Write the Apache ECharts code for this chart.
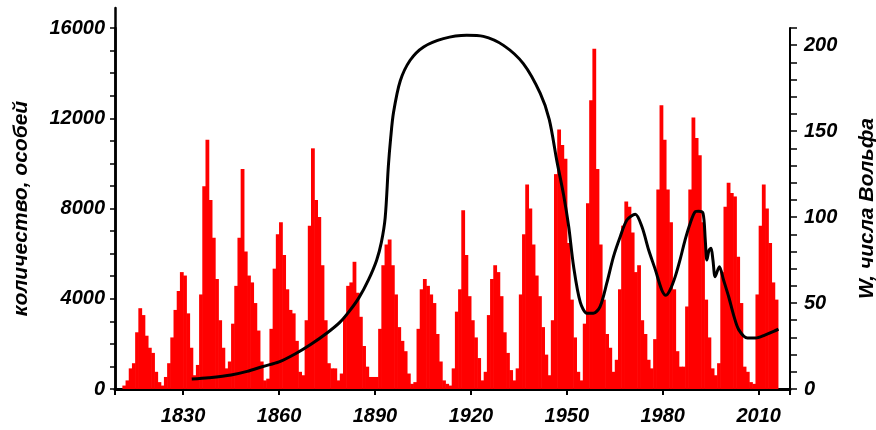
<!DOCTYPE html>
<html>
<head>
<meta charset="utf-8">
<style>
    html, body { margin: 0; padding: 0; background: #fff; }
    .chart { width: 876px; height: 430px; }
</style>
<script src="https://cdn.jsdelivr.net/npm/echarts@6.0.0/dist/echarts.min.js"></script>
</head>
<body>
<div class="chart"></div>
<script>
// числа Вольфа по годам, первый год - ssnFirstYear
var ssnFirstYear = 1811
var ssnValues = [
    2, 5, 12, 15, 33, 47, 43, 31, 24, 21,          // 1811-1820
    10, 4, 2, 7, 15, 30, 46, 57, 68, 66,           // 1821-1830
    44, 24, 8, 14, 55, 118, 145, 110, 88, 64,      // 1831-1840
    40, 24, 12, 16, 38, 60, 88, 128, 80, 66,       // 1841-1850
    62, 50, 34, 16, 5, 6, 35, 70, 90, 97,          // 1851-1860
    78, 58, 46, 44, 28, 10, 8, 40, 95, 140,        // 1861-1870
    110, 100, 72, 40, 15, 12, 12, 5, 9, 42,        // 1871-1880
    60, 62, 74, 56, 42, 25, 13, 7, 7, 7,           // 1881-1890
    35, 72, 84, 87, 72, 55, 36, 28, 22, 9,         // 1891-1900
    3, 4, 35, 58, 64, 60, 55, 50, 32, 16,          // 1901-1910
    5, 3, 2, 12, 45, 58, 104, 78, 54, 40,          // 1911-1920
    30, 18, 5, 10, 43, 64, 72, 68, 54, 33,         // 1921-1930
    21, 11, 5, 12, 55, 90, 119, 105, 84, 66,       // 1931-1940
    54, 36, 20, 8, 40, 125, 151, 142, 134, 85,     // 1941-1950
    52, 30, 10, 5, 38, 108, 168, 198, 128, 84,     // 1951-1960
    52, 32, 24, 10, 17, 58, 95, 109, 106, 91,      // 1961-1970
    68, 72, 40, 32, 17, 12, 29, 116, 165, 145,     // 1971-1980
    116, 97, 58, 22, 13, 13, 48, 116, 158, 146,    // 1981-1990
    136, 97, 52, 30, 12, 8, 15, 68, 106, 120,      // 1991-2000
    114, 112, 77, 50, 13, 10, 4, 3, 55, 95,        // 2001-2010
    119, 105, 85, 62, 52                           // 2011-2015
]

// численность популяции (годы и значения)
var popYears = [
    1832.7, 1838, 1845, 1850, 1855, 1860, 1865, 1870, 1875, 1879,
    1882, 1885, 1888, 1890.5, 1892, 1893.2, 1894.2, 1894.9, 1895.8, 1897.9,
    1901, 1905.2, 1911.4, 1918.7, 1923.9, 1930.2, 1936.4, 1941.7, 1944.5, 1946.9,
    1949, 1950.6, 1952.1, 1954.2, 1956.3, 1958.3, 1960.4, 1962.5, 1964.6, 1966.7,
    1968.8, 1971.4, 1973.5, 1975.6, 1977.7, 1979.7, 1981, 1982.3, 1983.9, 1985.4,
    1987, 1988.6, 1990.2, 1991.2, 1992.6, 1993.3, 1993.8, 1994.5, 1995.1, 1995.7,
    1996.4, 1997.7, 1999, 2000.6, 2002.3, 2003.8, 2006.5, 2009, 2012.1, 2014.7,
    2016.2
]
var popValues = [
    440, 500, 620, 780, 1000, 1200, 1550, 1980, 2480, 2950,
    3450, 4050, 4850, 5700, 6500, 7600, 9900, 11100, 12250, 13650,
    14570, 15160, 15530, 15680, 15630, 15230, 14420, 13100, 11950, 10100,
    8600, 7190, 5450, 3850, 3360, 3360, 3650, 4690, 5870, 6750,
    7490, 7750, 7190, 6160, 5280, 4390, 4150, 4390, 4980, 5720,
    6610, 7350, 7860, 7880, 7790, 6610, 5720, 6160, 6240, 5720,
    4980, 5420, 4840, 4100, 3210, 2620, 2260, 2260, 2400, 2550,
    2650
]

// подписи и деления осей
var yearLabels = [1830, 1860, 1890, 1920, 1950, 1980, 2010]
var yearTicks = [1808.7, 1830, 1860, 1890, 1920, 1950, 1980, 2010, 2019.8]
var leftLabels = [0, 4000, 8000, 12000, 16000]
var leftTicks = [0, 1000, 2000, 3000, 4000, 5000, 6000, 7000, 8000,
    9000, 10000, 11000, 12000, 13000, 14000, 15000, 16000]
var rightLabels = [0, 50, 100, 150, 200]
var rightTicks = [0, 10, 20, 30, 40, 50, 60, 70, 80, 90, 100,
    110, 120, 130, 140, 150, 160, 170, 180, 190, 200, 210]

;(function(){
    var box = document.querySelector('.chart')
    var myChart = echarts.init(box)

    var ssnData = ssnValues.map(function(v, i){
        return [ssnFirstYear + i, v]
    })
    var popData = popYears.map(function(y, i){
        return [y, popValues[i]]
    })

    var font = {
        color: '#000',
        fontFamily: 'Liberation Sans',
        fontWeight: 'bold',
        fontStyle: 'italic',
        fontSize: 20
    }
    var nameFont = Object.assign({}, font, { fontSize: 21 })

    // столбик на весь год, чуть внахлёст чтобы не было щелей
    function renderYear(params, api){
        var year = api.value(0)
        var top = api.coord([year, api.value(1)])
        var bottom = api.coord([year + 1, 0])
        return {
            type: 'rect',
            shape: {
                x: top[0],
                y: top[1],
                width: bottom[0] - top[0] + 0.6,
                height: bottom[1] - top[1]
            },
            style: { fill: '#ff0000' }
        }
    }

    var option = {
        animation: false,
        grid: [
            { left: 115, right: 86, top: 28, bottom: 41, outerBoundsMode: 'none' },
            // только для продолжения левой оси вверх
            { left: 115, right: 86, top: 8, bottom: 41, outerBoundsMode: 'none' }
        ],
        xAxis: [
            {
                type: 'value',
                gridIndex: 0,
                min: 1808.7,
                max: 2019.8,
                axisLine: { lineStyle: { color: '#000', width: 3 } },
                axisTick: {
                    length: 6,
                    customValues: yearTicks,
                    lineStyle: { color: '#000', width: 2 }
                },
                axisLabel: Object.assign({
                    margin: 17,
                    customValues: yearLabels,
                    formatter: function(v){ return String(v) }
                }, font),
                splitLine: { show: false }
            },
            {
                type: 'value',
                gridIndex: 1,
                min: 1808.7,
                max: 2019.8,
                show: false
            }
        ],
        yAxis: [
            {
                type: 'value',
                gridIndex: 0,
                position: 'left',
                min: 0,
                max: 16000,
                name: 'количество, особей',
                nameLocation: 'middle',
                nameRotate: 90,
                nameGap: 83,
                nameTextStyle: nameFont,
                axisLine: { show: true, lineStyle: { color: '#000', width: 2.5 } },
                axisTick: {
                    length: 5,
                    customValues: leftTicks,
                    lineStyle: { color: '#000', width: 1.5 }
                },
                axisLabel: Object.assign({
                    margin: 10,
                    customValues: leftLabels,
                    formatter: function(v){ return String(v) }
                }, font),
                splitLine: { show: false }
            },
            {
                type: 'value',
                gridIndex: 0,
                position: 'right',
                min: 0,
                max: 210,
                name: 'W, числа Вольфа',
                nameLocation: 'middle',
                nameRotate: 90,
                nameGap: 67,
                nameTextStyle: nameFont,
                axisLine: { show: true, lineStyle: { color: '#000', width: 2 } },
                axisTick: {
                    length: 7,
                    customValues: rightTicks,
                    lineStyle: { color: '#000', width: 1.5 }
                },
                axisLabel: Object.assign({
                    margin: 14,
                    customValues: rightLabels,
                    formatter: function(v){ return String(v) }
                }, font),
                splitLine: { show: false }
            },
            {
                type: 'value',
                gridIndex: 1,
                position: 'left',
                min: 0,
                max: 1,
                axisLine: { show: true, lineStyle: { color: '#000', width: 2.5 } },
                axisTick: { show: false },
                axisLabel: { show: false },
                splitLine: { show: false }
            }
        ],
        series: [
            {
                name: 'W',
                type: 'custom',
                xAxisIndex: 0,
                yAxisIndex: 1,
                renderItem: renderYear,
                encode: { x: 0, y: 1 },
                data: ssnData
            },
            {
                name: 'количество',
                type: 'line',
                xAxisIndex: 0,
                yAxisIndex: 0,
                smooth: 0.3,
                symbol: 'none',
                z: 3,
                lineStyle: { color: '#000', width: 3 },
                data: popData
            }
        ]
    }
    myChart.setOption(option)
    window.addEventListener('resize', function(){
        myChart.resize()
    })
})();
</script>
</body>
</html>
